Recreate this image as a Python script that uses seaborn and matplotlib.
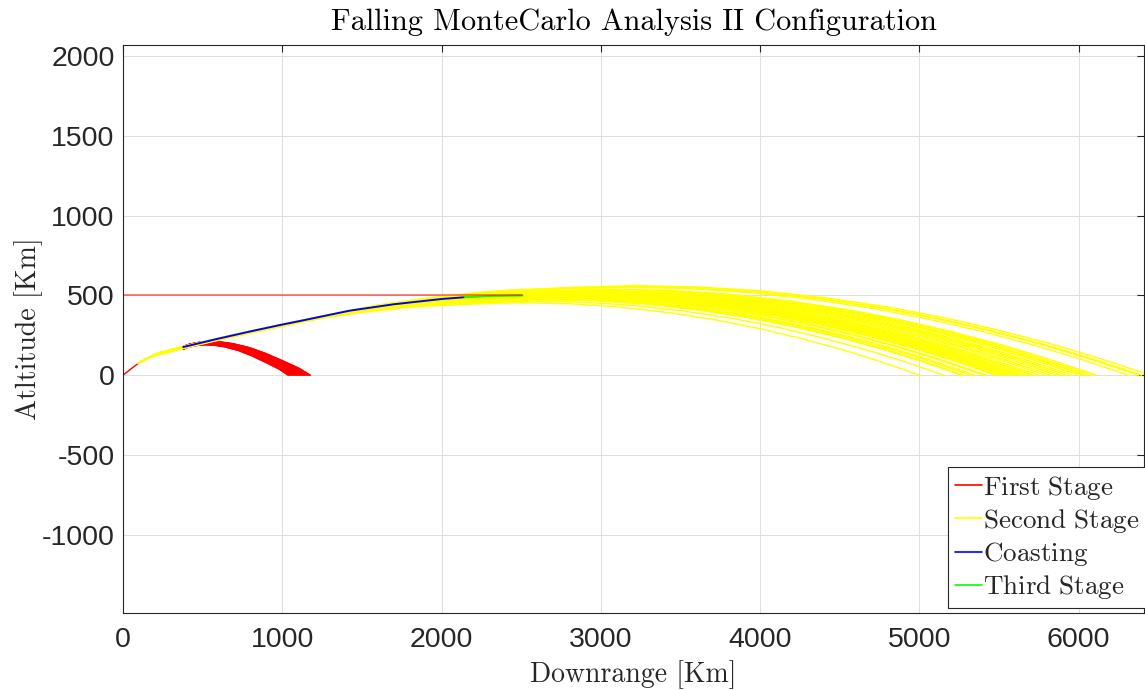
import matplotlib
matplotlib.use("Agg")
import matplotlib.pyplot as plt
from matplotlib.lines import Line2D
import numpy as np
import pandas as pd
import seaborn as sns

# ---- trajectory data [km] ----
# first-stage powered ascent
ascent_range = [0, 50, 107, 200, 300, 378]
ascent_alt = [0, 40, 83, 130, 160, 177]

# coasting arc up to third-stage ignition
coast_range = [378, 600, 800, 1000, 1110, 1423, 1700, 2000, 2144]
coast_alt = [177, 230, 275, 318, 340, 405, 445, 478, 489]

# third-stage burn into the target orbit
third_range = [2144, 2300, 2508]
third_alt = [489, 497, 500]

# target orbit altitude reference
orbit_range = [0, 2508]
orbit_alt = [500, 500]

# reference fall of the spent first stage (longest run)
first_fall_range = [378, 420, 480, 545, 620, 692, 796, 901, 1005, 1110, 1177]
first_fall_alt = [181, 196, 207, 212, 208, 198, 173, 135, 90, 42, 0]
first_landing = [1036, 1042, 1049, 1055, 1061, 1068, 1074, 1080, 1087, 1093,
                 1099, 1105, 1111, 1118, 1124, 1130, 1136, 1142, 1149, 1155,
                 1161, 1167, 1172, 1177]
first_apogee_factor = [0.90, 0.905, 0.91, 0.915, 0.92, 0.925, 0.93, 0.935, 0.94, 0.945,
                       0.95, 0.955, 0.96, 0.963, 0.966, 0.97, 0.974, 0.978, 0.982, 0.986,
                       0.99, 0.994, 0.997, 1.0]

# reference fall of the spent second stage (nominal run)
second_fall_range = [107, 200, 378, 600, 800, 1000, 1423, 1700, 2000, 2144, 2500,
                     2850, 3200, 3550, 3900, 4250, 4550, 4850, 5150, 5400, 5600, 5700]
second_fall_alt = [83, 130, 177, 230, 275, 318, 405, 445, 478, 489, 505,
                   515, 507, 484, 445, 391, 332, 261, 180, 103, 35, 0]
second_nominal_landing = 5700
second_nominal_apogee = 515
second_landing = [5003, 5154, 5265, 5279, 5321, 5348, 5404, 5421, 5478, 5498,
                  5524, 5540, 5561, 5580, 5603, 5624, 5643, 5666, 5697, 5718,
                  5749, 5791, 5823, 5862, 5893, 5925, 5956, 6000, 6031, 6050,
                  6082, 6113, 6313, 6376, 6395, 6450]
second_apogee = [455, 465, 475, 478, 480, 483, 488, 490, 493, 495,
                 497, 499, 500, 502, 504, 506, 507, 509, 511, 513,
                 515, 518, 520, 523, 525, 527, 529, 532, 534, 536,
                 538, 540, 552, 556, 558, 562]

# ---- build Monte Carlo run tables ----
rows = []
span_ref = first_fall_range[-1] - first_fall_range[0]
for run, (land, k) in enumerate(zip(first_landing, first_apogee_factor)):
    sx = (land - first_fall_range[0]) / span_ref
    for d, h in zip(first_fall_range, first_fall_alt):
        rows.append((run, first_fall_range[0] + (d - first_fall_range[0]) * sx, h * k))
first_df = pd.DataFrame(rows, columns=["run", "downrange", "altitude"])

rows = []
for run, (land, apo) in enumerate(zip(second_landing, second_apogee)):
    sx = land / second_nominal_landing
    sy = apo / second_nominal_apogee
    for d, h in zip(second_fall_range, second_fall_alt):
        rows.append((run, d * sx, h * sy))
second_df = pd.DataFrame(rows, columns=["run", "downrange", "altitude"])

ascent_df = pd.DataFrame({"downrange": ascent_range, "altitude": ascent_alt})
coast_df = pd.DataFrame({"downrange": coast_range, "altitude": coast_alt})
third_df = pd.DataFrame({"downrange": third_range, "altitude": third_alt})
orbit_df = pd.DataFrame({"downrange": orbit_range, "altitude": orbit_alt})

# ---- style ----
sns.set_theme(style="white")
serif = "cmr10"
plt.rcParams["font.family"] = ["Liberation Sans", "DejaVu Sans"]
plt.rcParams["axes.unicode_minus"] = False
plt.rcParams["mathtext.fontset"] = "cm"

W, H = 1145, 690
fig = plt.figure(figsize=(W / 100, H / 100), dpi=100)
ax = fig.add_axes([123 / W, 1 - 613 / H, (1144 - 123) / W, (613 - 45) / H])

red, yellow, blue, green = (1, 0, 0), (1, 1, 0), (0, 0, 1), (0, 1, 0)

sns.lineplot(data=ascent_df, x="downrange", y="altitude", color=red, lw=1.0,
             sort=False, estimator=None, ax=ax)
sns.lineplot(data=first_df, x="downrange", y="altitude", units="run", estimator=None,
             color=red, lw=1.0, sort=False, ax=ax)
sns.lineplot(data=second_df, x="downrange", y="altitude", units="run", estimator=None,
             color=yellow, lw=1.0, sort=False, ax=ax)
sns.lineplot(data=coast_df, x="downrange", y="altitude", color=blue, lw=1.4,
             sort=False, estimator=None, ax=ax)
sns.lineplot(data=third_df, x="downrange", y="altitude", color=green, lw=1.4,
             sort=False, estimator=None, ax=ax)
sns.lineplot(data=orbit_df, x="downrange", y="altitude", color=red, alpha=0.5, lw=1.4,
             sort=False, estimator=None, ax=ax)

ax.set_xlim(0, 6410)
ax.set_ylim(-1490, 2070)
ax.set_xticks(np.arange(0, 7000, 1000))
ax.set_yticks(np.arange(-1000, 2500, 500))

ax.grid(True, color="#dedede", lw=0.7)
ax.set_axisbelow(True)
for s in ax.spines.values():
    s.set_color("#262626")
    s.set_linewidth(0.8)
ax.tick_params(direction="in", length=5, width=0.8, color="#262626",
               top=True, right=True, labelsize=20.5, labelcolor="#262626")
ax.tick_params(axis="x", pad=10)
ax.tick_params(axis="y", pad=6)

ax.set_xlabel("Downrange [Km]", family=serif, fontsize=20, color="#262626", labelpad=5)
ax.set_ylabel("Atltitude [Km]", family=serif, fontsize=20.2, color="#262626", labelpad=-1)
ax.set_title("Falling MonteCarlo Analysis II Configuration", family=serif,
             fontsize=21.8, color="black", pad=11)

handles = [Line2D([], [], color=c, lw=1.2) for c in (red, yellow, blue, green)]
labels = [r"$\mathrm{First\ Stage}$", r"$\mathrm{Second\ Stage}$",
          r"$\mathrm{Coasting}$", r"$\mathrm{Third\ Stage}$"]
leg = ax.legend(handles, labels, loc="upper left", bbox_to_anchor=(0.808, 0.257),
                borderaxespad=0, frameon=True, fancybox=False, framealpha=1,
                edgecolor="#262626", prop={"size": 19.5},
                handlelength=1.0, handletextpad=0.05, labelspacing=0.19,
                borderpad=0.25)
leg.get_frame().set_linewidth(0.8)

fig.savefig("out.png", dpi=100)
